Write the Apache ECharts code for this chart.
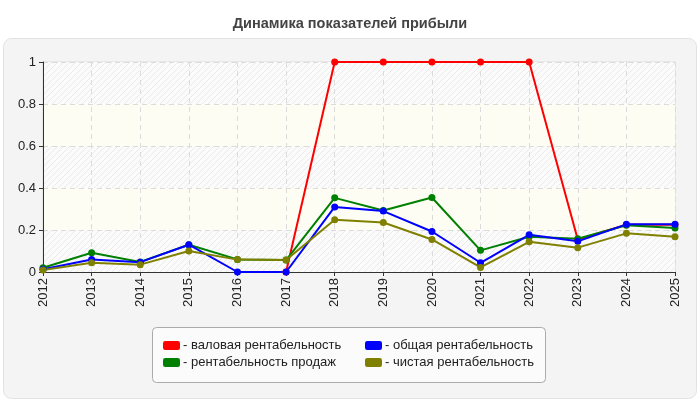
<!DOCTYPE html>
<html>
<head>
<meta charset="utf-8">
<script src="https://cdn.jsdelivr.net/npm/echarts@6/dist/echarts.min.js"></script>
<style>
  html, body { margin: 0; padding: 0; background: #fff; }
  #main { width: 700px; height: 400px; }
</style>
</head>
<body>
<div id="main"></div>
<script>
var years = ['2012', '2013', '2014', '2015', '2016', '2017', '2018', '2019', '2020', '2021', '2022', '2023', '2024', '2025'];
var grossMargin = [null, null, null, null, null, 0, 1, 1, 1, 1, 1, 0.155, 0.225, 0.225];
var salesMargin = [0.02, 0.092, 0.048, 0.13, 0.06, 0.057, 0.353, 0.293, 0.355, 0.103, 0.168, 0.158, 0.223, 0.21];
var totalMargin = [0.013, 0.06, 0.047, 0.13, 0, 0, 0.31, 0.29, 0.193, 0.044, 0.177, 0.146, 0.227, 0.227];
var netMargin = [0.01, 0.044, 0.035, 0.1, 0.059, 0.057, 0.249, 0.236, 0.155, 0.022, 0.144, 0.116, 0.184, 0.168];
var yTicks = [0, 0.2, 0.4, 0.6, 0.8, 1];

// штриховка для полос фона
function hatch() {
  var c = document.createElement('canvas');
  c.width = 6; c.height = 6;
  var g = c.getContext('2d');
  g.fillStyle = '#fbfbfb';
  g.fillRect(0, 0, 6, 6);
  g.strokeStyle = '#eaeaea';
  g.lineWidth = 1;
  g.beginPath();
  g.moveTo(0, 6); g.lineTo(6, 0);
  g.moveTo(-1, 1); g.lineTo(1, -1);
  g.moveTo(5, 7); g.lineTo(7, 5);
  g.stroke();
  return { image: c, repeat: 'repeat' };
}

var font = '"Liberation Sans", Arial, sans-serif';
var chart = echarts.init(document.getElementById('main'));

function line(name, data, color, width) {
  return {
    name: name,
    type: 'line',
    data: data,
    symbol: 'circle',
    symbolSize: 7,
    showAllSymbol: true,
    connectNulls: false,
    itemStyle: { color: color },
    lineStyle: { color: color, width: width },
    animation: false
  };
}

var legendCommon = {
  orient: 'vertical',
  top: 334,
  itemWidth: 17,
  itemHeight: 9,
  itemGap: 4,
  icon: 'roundRect',
  formatter: '- {name}',
  textStyle: { fontFamily: font, fontSize: 13, color: '#222', padding: [0, 0, 0, -2] }
};

chart.setOption({
  title: {
    text: 'Динамика показателей прибыли',
    left: 'center',
    top: 11,
    textStyle: { fontFamily: font, fontSize: 14.5, fontWeight: 'bold', color: '#444' }
  },
  graphic: [
    {
      type: 'rect', z: -10,
      shape: { x: 3.5, y: 38.5, width: 693, height: 360, r: 8 },
      style: { fill: '#f4f4f4', stroke: '#e2e2e2', lineWidth: 1 }
    },
    {
      type: 'rect', z: -5,
      shape: { x: 152.5, y: 327.5, width: 393, height: 55, r: 4 },
      style: { fill: '#fbfbfb', stroke: '#aaaaaa', lineWidth: 1 }
    }
  ],
  legend: [
    Object.assign({ left: 158, data: ['валовая рентабельность', 'рентабельность продаж'] }, legendCommon),
    Object.assign({ left: 360, data: ['общая рентабельность', 'чистая рентабельность'] }, legendCommon)
  ],
  grid: { left: 43, right: 25, top: 62, bottom: 128, show: true, borderColor: '#dddddd', borderWidth: 1 },
  xAxis: {
    type: 'category',
    data: years,
    boundaryGap: false,
    axisLine: { lineStyle: { color: '#333', width: 1 } },
    axisTick: { show: true, length: 4, lineStyle: { color: '#333' } },
    axisLabel: { rotate: 90, fontFamily: font, fontSize: 13, color: '#222', margin: 6 },
    splitLine: { show: true, lineStyle: { color: '#dcdcdc', type: [5, 4] } }
  },
  yAxis: {
    type: 'value',
    min: yTicks[0],
    max: yTicks[yTicks.length - 1],
    interval: 0.2,
    axisLine: { show: true, lineStyle: { color: '#333', width: 1 } },
    axisTick: { show: true, length: 4, lineStyle: { color: '#333' } },
    axisLabel: { fontFamily: font, fontSize: 13, color: '#222', margin: 7 },
    splitLine: { show: true, lineStyle: { color: '#dcdcdc', type: [5, 4] } },
    splitArea: { show: true, areaStyle: { color: [hatch(), '#fdfdf4'] } }
  },
  series: [
    line('валовая рентабельность', grossMargin, '#ff0000', 2),
    line('рентабельность продаж', salesMargin, '#008000', 2),
    line('общая рентабельность', totalMargin, '#0000ff', 2),
    line('чистая рентабельность', netMargin, '#808000', 2)
  ]
});
</script>
</body>
</html>
